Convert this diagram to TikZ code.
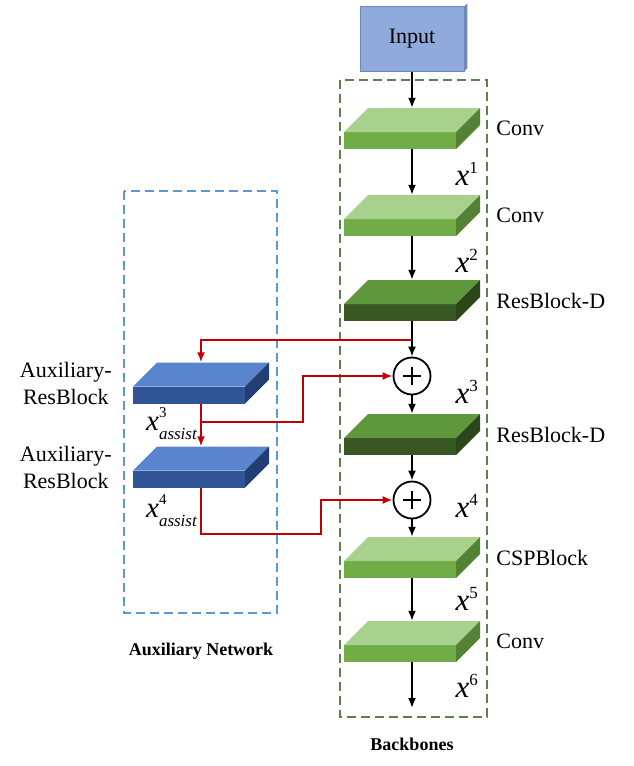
\documentclass[tikz,border=0pt]{standalone}
\usepackage{fontspec}
\setmainfont{Liberation Serif}
\usetikzlibrary{positioning,arrows.meta}

\definecolor{convtop}{HTML}{A9D18E}
\definecolor{convfront}{HTML}{70AD47}
\definecolor{convside}{HTML}{548235}
\definecolor{restop}{HTML}{5F983C}
\definecolor{resfront}{HTML}{385723}
\definecolor{resside}{HTML}{2B4619}
\definecolor{auxtop}{HTML}{5B84CF}
\definecolor{auxfront}{HTML}{2F5597}
\definecolor{auxside}{HTML}{223F73}
\definecolor{inputfill}{HTML}{8FAADC}
\definecolor{inputside}{HTML}{7088B8}
\definecolor{auxframe}{HTML}{5B9BD5}
\definecolor{backframe}{HTML}{5E7F4E}
\definecolor{assistred}{HTML}{C00000}

\newcommand\xsup[1]{\textit{x}\raisebox{12pt}{\fontsize{17}{17}\selectfont #1}}
\newcommand\xassist[1]{\textit{x}\makebox[0pt][l]{\raisebox{13pt}{\fontsize{15}{15}\selectfont #1}}\raisebox{-9pt}{\fontsize{17}{17}\selectfont\itshape assist}}

\begin{document}
\begin{tikzpicture}[x=1pt,y=-1pt,
	slab/.style n args={3}{minimum width=136pt,minimum height=41pt,inner sep=0pt,
		path picture={
			\fill[#1] (path picture bounding box.south west) rectangle ++(112,-17);
			\fill[#2] ([yshift=17pt]path picture bounding box.south west) -- ++(24,-24) -- ++(112,0) -- ++(-24,24) -- cycle;
			\fill[#3] ([xshift=112pt]path picture bounding box.south west) -- ++(0,-17) -- ++(24,-24) -- ++(0,17) -- cycle;
		}},
	convslab/.style={slab={convfront}{convtop}{convside}},
	resslab/.style={slab={resfront}{restop}{resside}},
	auxslab/.style={slab={auxfront}{auxtop}{auxside}},
	sumnode/.style={circle,draw,line width=1.8pt,minimum size=37pt,inner sep=0pt,
		path picture={
			\draw[line width=1.8pt] ([xshift=-9pt]path picture bounding box.center) -- ([xshift=9pt]path picture bounding box.center);
			\draw[line width=1.8pt] ([yshift=-9pt]path picture bounding box.center) -- ([yshift=9pt]path picture bounding box.center);
		}},
	blocklabel/.style={inner sep=0pt,font=\fontsize{22}{27}\selectfont},
	featlabel/.style={inner sep=0pt,anchor=base east,font=\fontsize{31}{32}\selectfont},
	assistlabel/.style={featlabel,font=\fontsize{29}{30}\selectfont},
	titlelabel/.style={inner sep=0pt,font=\fontsize{18}{20}\selectfont\bfseries},
	flow/.style={line width=1.8pt,-{Latex[length=10pt,width=8pt]}},
	assistflow/.style={flow,draw=assistred,color=assistred}]
	\useasboundingbox (0,0) rectangle (634,766);

	% frames
	\draw[auxframe,line width=1.6pt,dash pattern=on 9pt off 5pt] (124,191) rectangle (277,613);
	\draw[backframe,line width=1.6pt,dash pattern=on 9pt off 5pt] (340,80) rectangle (487,717);
	\node[titlelabel] (auxtitle) at (201,651) {Auxiliary Network};
	\node[titlelabel] (backtitle) at (412,744) {Backbones};

	% backbone
	\node[fill=inputfill,draw=inputside,line width=0.5pt,minimum width=104pt,minimum height=65pt,font=\fontsize{22}{27}\selectfont] (input) at (412,39) {Input};
	\fill[inputside] (input.north east) -- ++(3,-3) -- ++(0,65) -- ++(-3,3) -- cycle;
	\node[convslab] (conv1) at (412,128.5) {};
	\node[convslab] (conv2) at (412,215.5) {};
	\node[resslab] (resd1) at (412,300.5) {};
	\node[sumnode] (sum1) at (412,376) {};
	\node[resslab] (resd2) at (412,434.5) {};
	\node[sumnode] (sum2) at (412,500) {};
	\node[convslab] (csp) at (412,557.5) {};
	\node[convslab] (conv3) at (412,641.5) {};
	\coordinate (out) at (412,708);

	\node[blocklabel,right=16pt of conv1] (conv1label) {Conv};
	\node[blocklabel,right=16pt of conv2] (conv2label) {Conv};
	\node[blocklabel,right=16pt of resd1] (resd1label) {ResBlock-D};
	\node[blocklabel,right=16pt of resd2] (resd2label) {ResBlock-D};
	\node[blocklabel,right=16pt of csp] (csplabel) {CSPBlock};
	\node[blocklabel,right=16pt of conv3] (conv3label) {Conv};

	\node[featlabel] (xone) at (478,185) {\xsup{1}};
	\node[featlabel] (xtwo) at (478,272) {\xsup{2}};
	\node[featlabel] (xthree) at (478,403) {\xsup{3}};
	\node[featlabel] (xfour) at (478,517) {\xsup{4}};
	\node[featlabel] (xfive) at (478,610) {\xsup{5}};
	\node[featlabel] (xsix) at (478,697) {\xsup{6}};

	\draw[flow] (input.south) -- (conv1.north);
	\draw[flow] (conv1.south) -- (conv2.north);
	\draw[flow] (conv2.south) -- (resd1.north);
	\draw[flow] (resd1.south) -- (sum1.north);
	\draw[flow] (sum1.south) -- (resd2.north);
	\draw[flow] (resd2.south) -- (sum2.north);
	\draw[flow] (sum2.south) -- (csp.north);
	\draw[flow] (csp.south) -- (conv3.north);
	\draw[flow] (conv3.south) -- (out);

	% auxiliary network
	\node[auxslab] (aux1) at (201,383) {};
	\node[auxslab] (aux2) at (201,467) {};
	\node[blocklabel,align=center,left=21pt of aux1] (aux1label) {Auxiliary-\\ResBlock};
	\node[blocklabel,align=center,left=21pt of aux2] (aux2label) {Auxiliary-\\ResBlock};
	\node[assistlabel] (xathree) at (197,430) {\xassist{3}};
	\node[assistlabel] (xafour) at (197,517) {\xassist{4}};

	\coordinate (split1) at (412,340);
	\coordinate (split2) at (201,422);
	\draw[assistflow] (split1) -| (aux1.north);
	\draw[assistflow] (aux1.south) -- (aux2.north);
	\draw[assistflow] (split2) -- ++(102,0) |- (sum1.west);
	\draw[assistflow] (aux2.south) -- ++(0,46) -- ++(120,0) |- (sum2.west);
\end{tikzpicture}
\end{document}
